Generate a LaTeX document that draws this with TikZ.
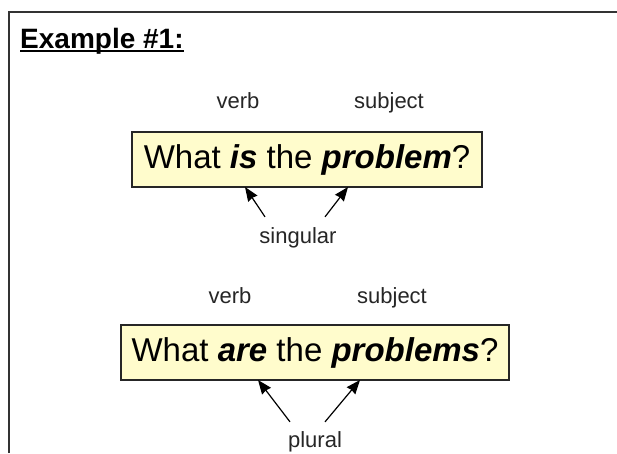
\documentclass[tikz,border=0pt]{standalone}
\usepackage{fontspec}
\setmainfont{Liberation Sans}
\usetikzlibrary{arrows.meta}

\begin{document}
\begin{tikzpicture}[x=1pt,y=-1pt,>={Stealth[length=14pt,width=11pt,inset=1pt]},
  sentence/.style={draw=black!85,line width=1.6pt,fill=yellow!20,minimum height=55pt,inner sep=0pt,font=\fontsize{33}{33}\selectfont},
  wordtag/.style={anchor=base,inner sep=0pt,text=black!85,font=\fontsize{22}{22}\selectfont},
  pointer/.style={->,line width=1.2pt}]
\useasboundingbox (0,0) rectangle (617,453);
\fill[white] (0,0) rectangle (617,453);
\draw[black!80,line width=2.6pt] (9,453) -- (9,12) -- (617,12);
% title
\node[anchor=base west,inner sep=0pt,font=\fontsize{28}{28}\selectfont\bfseries] (title) at (20,48) {Example \#1:};
\draw[line width=2.2pt] ([yshift=-3pt]title.base west) -- ([yshift=-3pt]title.base east);
% singular
\node[wordtag] (verbA) at (238,108) {verb};
\node[wordtag] (subjA) at (389,108) {subject};
\node[sentence,minimum width=350pt] (qA) at (307,159.5) {What \textbf{\textit{is}} the \textbf{\textit{problem}}?};
\coordinate (isA) at (245,187);
\coordinate (probA) at (348,187);
\node[wordtag] (singA) at (298,243) {singular};
\draw[pointer] ([xshift=-33pt,yshift=10pt]singA.north) -- (isA);
\draw[pointer] ([xshift=27pt,yshift=10pt]singA.north) -- (probA);
% plural
\node[wordtag] (verbB) at (230,303) {verb};
\node[wordtag] (subjB) at (392,303) {subject};
\node[sentence,minimum width=388pt] (qB) at (315,352.5) {What \textbf{\textit{are}} the \textbf{\textit{problems}}?};
\coordinate (areB) at (258,380);
\coordinate (probB) at (360,380);
\node[wordtag] (plurB) at (315,447) {plural};
\draw[pointer] ([xshift=-25pt,yshift=9pt]plurB.north) -- (areB);
\draw[pointer] ([xshift=10pt,yshift=9pt]plurB.north) -- (probB);
\end{tikzpicture}
\end{document}
